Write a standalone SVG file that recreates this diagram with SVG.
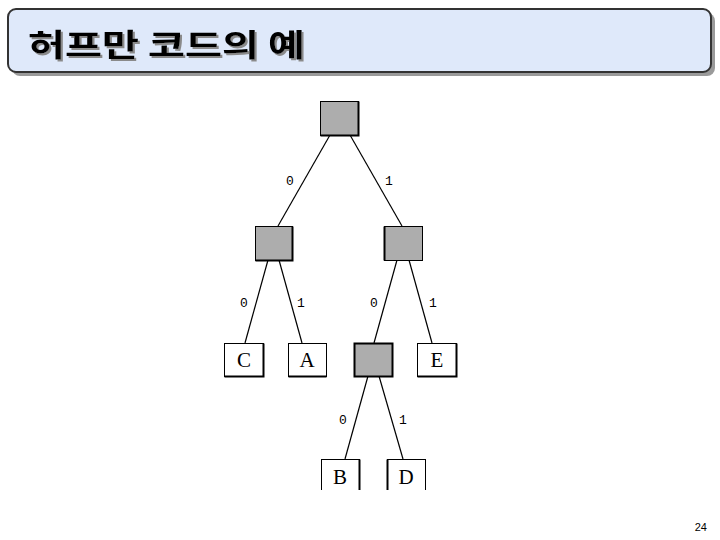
<svg xmlns="http://www.w3.org/2000/svg" width="720" height="540" viewBox="0 0 720 540">
<style>
.edge{stroke:#000;stroke-width:1.2;fill:none}
.bit{font-family:"Liberation Mono",monospace;font-size:13px;fill:#000;text-anchor:middle}
.letter{font-family:"Liberation Serif",serif;font-size:21px;fill:#000;text-anchor:middle}
.gray{fill:#adadad;stroke:#000;stroke-width:1}
.white{fill:#fff;stroke:#000;stroke-width:1}
.shade{fill:none;stroke:#000;stroke-width:2}
</style>
<defs>
<clipPath id="cut"><rect x="0" y="0" width="720" height="490"/></clipPath>
<filter id="tshadow" x="-5%" y="-20%" width="110%" height="150%">
<feOffset in="SourceAlpha" dx="2" dy="2" result="o"/>
<feFlood flood-color="#8a8a8a"/>
<feComposite in2="o" operator="in" result="s"/>
<feMerge><feMergeNode in="s"/><feMergeNode in="SourceGraphic"/></feMerge>
</filter>
</defs>
<rect width="720" height="540" fill="#fff"/>
<g id="title">
<rect x="12" y="13" width="703" height="63" rx="8" fill="#9a9a9a"/>
<rect x="8" y="9" width="703" height="63" rx="8" fill="#dfe9fa" stroke="#333" stroke-width="2"/>
<text x="28" y="56" filter="url(#tshadow)" font-family="Noto Sans CJK KR, sans-serif" font-weight="bold" font-size="31" fill="#000" textLength="277" lengthAdjust="spacingAndGlyphs">허프만 코드의 예</text>
</g>
<g id="connectors">
<line class="edge" x1="330" y1="135" x2="278" y2="226"/>
<line class="edge" x1="350" y1="135" x2="402" y2="226"/>
<line class="edge" x1="268" y1="260" x2="245" y2="343"/>
<line class="edge" x1="279" y1="260" x2="302" y2="343"/>
<line class="edge" x1="397" y1="260" x2="374" y2="343"/>
<line class="edge" x1="409" y1="260" x2="432" y2="343"/>
<line class="edge" x1="368" y1="376" x2="345" y2="459"/>
<line class="edge" x1="379" y1="376" x2="403" y2="459"/>
<text class="bit" x="290" y="185">0</text>
<text class="bit" x="389" y="185">1</text>
<text class="bit" x="244" y="307">0</text>
<text class="bit" x="301" y="307">1</text>
<text class="bit" x="374" y="307">0</text>
<text class="bit" x="433" y="307">1</text>
<text class="bit" x="343" y="424">0</text>
<text class="bit" x="403" y="424">1</text>
</g>
<g id="root">
<rect class="gray" x="320.5" y="101.5" width="38" height="34"/>
<polyline class="shade" points="358.5,101.5 358.5,135.5 320.5,135.5"/>
</g>
<g id="n0">
<rect class="gray" x="255.5" y="226.5" width="37" height="34"/>
<polyline class="shade" points="292.5,226.5 292.5,260.5 255.5,260.5"/>
</g>
<g id="n1">
<rect class="gray" x="384.5" y="226.5" width="38" height="34"/>
<polyline class="shade" points="384.5,226.5 384.5,260.5"/>
</g>
<g id="nC">
<rect class="white" x="224.5" y="343.5" width="39" height="33"/>
<polyline class="shade" points="263.5,343.5 263.5,376.5 224.5,376.5"/>
<text class="letter" x="244" y="367">C</text>
</g>
<g id="nA">
<rect class="white" x="288.5" y="343.5" width="38" height="33"/>
<polyline class="shade" points="326.5,376.5 288.5,376.5"/>
<text class="letter" x="307" y="367">A</text>
</g>
<g id="n10">
<rect class="gray" x="354.5" y="343.5" width="38" height="33"/>
<rect x="354.5" y="343.5" width="38" height="33" fill="none" stroke="#000" stroke-width="2"/>
</g>
<g id="nE">
<rect class="white" x="417.5" y="343.5" width="39" height="33"/>
<polyline class="shade" points="456.5,343.5 456.5,376.5 417.5,376.5"/>
<text class="letter" x="437" y="367">E</text>
</g>
<g id="nB" clip-path="url(#cut)">
<rect class="white" x="321.5" y="459.5" width="38" height="40"/>
<line class="shade" x1="359.5" y1="459.5" x2="359.5" y2="500"/>
<text class="letter" x="340" y="484">B</text>
</g>
<g id="nD" clip-path="url(#cut)">
<rect class="white" x="387.5" y="459.5" width="38" height="40"/>
<line class="shade" x1="387.5" y1="459.5" x2="387.5" y2="500"/>
<text class="letter" x="406" y="484">D</text>
</g>
<text x="707" y="531" font-family="Liberation Sans, sans-serif" font-size="11" fill="#000" text-anchor="end">24</text>
</svg>
